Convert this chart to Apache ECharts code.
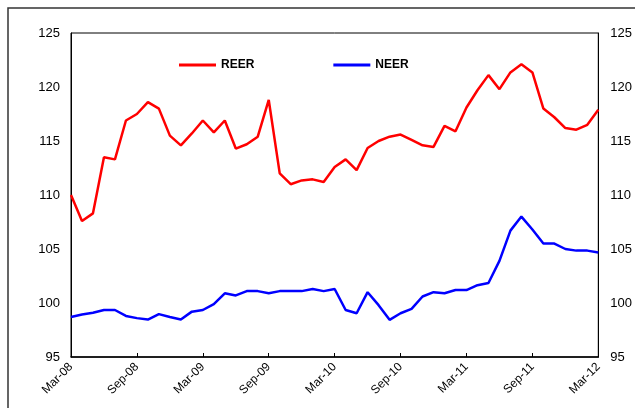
<!DOCTYPE html>
<html>
<head>
<meta charset="utf-8">
<title>REER NEER</title>
<script src="https://cdn.jsdelivr.net/npm/echarts@6/dist/echarts.min.js"></script>
<style>
  html, body { margin: 0; padding: 0; background: #fff; }
  #main { width: 635px; height: 408px; }
</style>
</head>
<body>
<div id="main"></div>
<script>
var months = ['Mar-08','Apr-08','May-08','Jun-08','Jul-08','Aug-08','Sep-08','Oct-08','Nov-08','Dec-08','Jan-09','Feb-09',
  'Mar-09','Apr-09','May-09','Jun-09','Jul-09','Aug-09','Sep-09','Oct-09','Nov-09','Dec-09','Jan-10','Feb-10',
  'Mar-10','Apr-10','May-10','Jun-10','Jul-10','Aug-10','Sep-10','Oct-10','Nov-10','Dec-10','Jan-11','Feb-11',
  'Mar-11','Apr-11','May-11','Jun-11','Jul-11','Aug-11','Sep-11','Oct-11','Nov-11','Dec-11','Jan-12','Feb-12','Mar-12'];

var reer = [110.0, 107.6, 108.3, 113.5, 113.3, 116.9, 117.5, 118.6, 118.0, 115.5, 114.6, 115.7,
  116.9, 115.8, 116.9, 114.3, 114.7, 115.4, 118.8, 112.0, 111.0, 111.35, 111.45, 111.2,
  112.6, 113.3, 112.3, 114.35, 115.0, 115.4, 115.6, 115.1, 114.6, 114.45, 116.4, 115.9,
  118.1, 119.7, 121.1, 119.8, 121.35, 122.1, 121.35, 118.0, 117.2, 116.2, 116.05, 116.5, 117.9];

var neer = [98.7, 98.94, 99.1, 99.35, 99.35, 98.8, 98.6, 98.47, 98.97, 98.7, 98.47, 99.2,
  99.35, 99.9, 100.9, 100.7, 101.1, 101.1, 100.9, 101.1, 101.1, 101.1, 101.3, 101.1,
  101.3, 99.35, 99.05, 101.0, 99.8, 98.44, 99.05, 99.45, 100.6, 101.0, 100.9, 101.2,
  101.2, 101.65, 101.85, 103.9, 106.7, 108.0, 106.8, 105.5, 105.5, 105.0, 104.85, 104.85, 104.67];

var chart = echarts.init(document.getElementById('main'));
var fnt = 'Arial, "Liberation Sans", sans-serif';

var yAxisBase = {
  type: 'value',
  min: 95,
  max: 125,
  interval: 5,
  axisLine: { show: true, lineStyle: { color: '#000', width: 1 } },
  axisTick: { show: false },
  splitLine: { show: false },
  axisLabel: { color: '#000', fontSize: 13, fontFamily: fnt, margin: 11 }
};

chart.setOption({
  animation: false,
  graphic: [{
    type: 'rect',
    shape: { x: 8, y: 8, width: 700, height: 500 },
    style: { fill: 'none', stroke: '#333', lineWidth: 1.5 },
    silent: true
  }],
  grid: {
    left: 71, right: 33, top: 33, bottom: 51,
    show: true, borderColor: '#000', borderWidth: 1
  },
  legend: {
    left: 179,
    top: 59,
    padding: 0,
    itemWidth: 37,
    itemHeight: 3,
    itemGap: 79,
    icon: 'rect',
    textStyle: { color: '#000', fontSize: 12, fontWeight: 'bold', fontFamily: fnt },
    data: ['REER', 'NEER']
  },
  xAxis: {
    type: 'category',
    data: months,
    boundaryGap: false,
    axisLine: { lineStyle: { color: '#000', width: 1.5 } },
    axisTick: { show: true, inside: true, length: 4, interval: 5, lineStyle: { color: '#000' } },
    axisLabel: { interval: 5, rotate: 45, color: '#000', fontSize: 12, fontFamily: fnt, margin: 8 },
    splitLine: { show: false }
  },
  yAxis: [
    Object.assign({}, yAxisBase, { position: 'left' }),
    Object.assign({}, yAxisBase, { position: 'right', axisLabel: Object.assign({}, yAxisBase.axisLabel, { margin: 12 }) })
  ],
  series: [{
    name: 'REER',
    type: 'line',
    data: reer,
    symbol: 'none',
    lineStyle: { color: '#ff0000', width: 2.5 },
    itemStyle: { color: '#ff0000' }
  }, {
    name: 'NEER',
    type: 'line',
    data: neer,
    symbol: 'none',
    lineStyle: { color: '#0000ff', width: 2.5 },
    itemStyle: { color: '#0000ff' }
  }]
});
</script>
</body>
</html>
